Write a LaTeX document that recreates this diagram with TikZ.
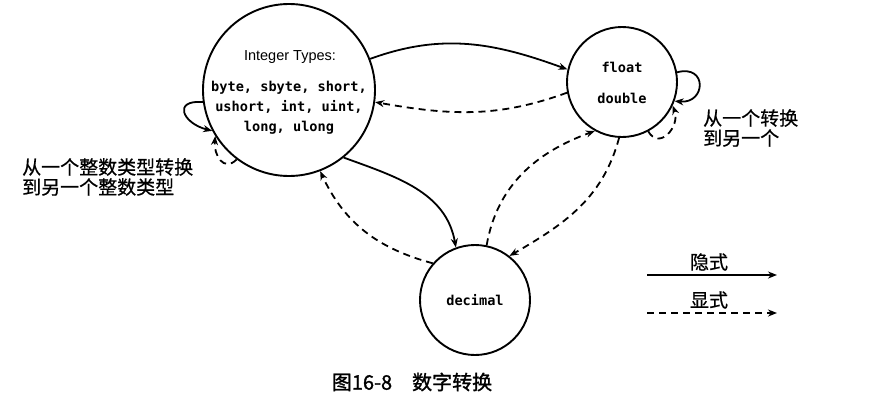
\documentclass[tikz,border=0pt]{standalone}
\usepackage{fontspec}
\setmainfont{Liberation Sans}
\newfontfamily\cjk[FakeBold=0.6]{Noto Sans CJK SC}
\newfontfamily\cjkcap[FakeBold=1.4]{Noto Sans CJK SC}
\newfontfamily\monof{DejaVu Sans Mono}
\usetikzlibrary{arrows.meta}
\begin{document}
\begin{tikzpicture}[x=1pt,y=-1pt,
  state/.style={circle,draw,line width=1.9pt,inner sep=0pt},
  imp/.style={line width=1.8pt,-{Stealth[length=9pt,width=7pt]}},
  expl/.style={imp,dash pattern=on 7pt off 5pt},
  cjklabel/.style={font=\cjk\fontsize{19}{20}\selectfont,align=left,inner sep=0pt},
  mono/.style={font=\monof\bfseries\fontsize{13.6}{20}\selectfont,inner sep=0pt},
  sanslabel/.style={font=\fontsize{14.5}{16}\selectfont,inner sep=0pt}
]
\useasboundingbox (0,0) rectangle (878,408);
\fill[white] (0,0) rectangle (878,408);

% states
\node[state,minimum size=172pt] (int) at (289,90) {};
\node[sanslabel] (intT) at (290,57) {Integer Types:};
\node[mono,align=center] (intL) at (289,108) {byte, sbyte, short,\\ushort, int, uint,\\long, ulong};

\node[state,minimum size=110pt] (flt) at (622,82) {};
\node[mono] (fl1) at (622,67) {float};
\node[mono] (fl2) at (622,98) {double};

\node[state,minimum size=110pt,mono] (dec) at (475,300) {decimal};

% connectors
\draw[imp]  (int.21)    to[out=20,in=160]  (flt.167.5);
\draw[expl] (flt.191)   to[out=200,in=-10] (int.-8);
\draw[imp]  (int.-51)   to[out=-20,in=100] (dec.110);
\draw[expl] (dec.139.5) to[out=165,in=-65] (int.-69);
\draw[expl] (dec.78)    to[out=80,in=200]  (flt.241);
\draw[expl] (flt.267)   to[out=255,in=30]  (dec.52);

% loops
\draw[imp]  (int.188.5) to[out=175,in=166,looseness=2.6] (int.208.5);
\draw[expl] (int.233)   to[out=225,in=265,looseness=1.5] (int.212);
\draw[imp]  (flt.10)    to[out=15,in=-5,looseness=2.8]   (flt.-20);
\draw[expl] (flt.-62.5) to[out=-60,in=-70,looseness=1.6] (flt.-25);

% labels
\node[cjklabel,anchor=west] (lab1) at (22,177) {从一个整数类型转换\\到另一个整数类型};
\node[cjklabel,anchor=west] (lab2) at (703,128) {从一个转换\\到另一个};

% legend
\coordinate (l1a) at (647,275); \coordinate (l1b) at (777,275);
\coordinate (l2a) at (647,313); \coordinate (l2b) at (777,313);
\draw[imp]  (l1a) -- (l1b);
\draw[expl] (l2a) -- (l2b);
\node[cjklabel] (l1t) at (709,262) {隐式};
\node[cjklabel] (l2t) at (709,300) {显式};

% caption
\node[font=\cjkcap\fontsize{20}{22}\selectfont,inner sep=0pt] (cap) at (412,382) {图16-8\hspace{1em}数字转换};
\end{tikzpicture}
\end{document}
